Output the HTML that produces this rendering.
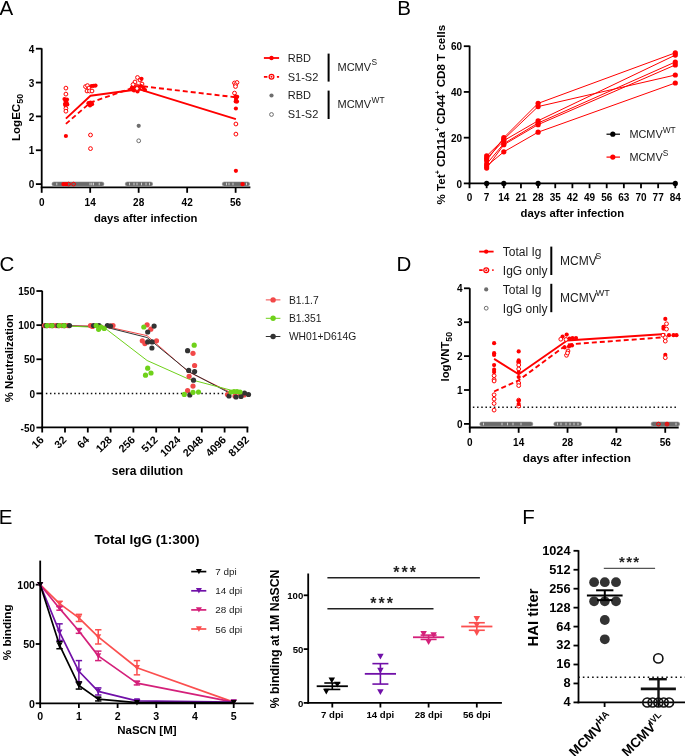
<!DOCTYPE html>
<html><head><meta charset="utf-8"><style>
html,body{margin:0;padding:0;background:#fff;}
svg{display:block;will-change:transform;}
text{font-family:"Liberation Sans",sans-serif;}
</style></head><body>
<svg width="685" height="756" viewBox="0 0 685 756">
<rect width="685" height="756" fill="#fff"/>
<text x="-0.60" y="15.20" font-size="20.5" text-anchor="start" font-weight="normal" fill="#000" >A</text>
<text x="397.30" y="15.40" font-size="20.5" text-anchor="start" font-weight="normal" fill="#000" >B</text>
<text x="-0.60" y="270.90" font-size="20.5" text-anchor="start" font-weight="normal" fill="#000" >C</text>
<text x="396.40" y="270.60" font-size="20.5" text-anchor="start" font-weight="normal" fill="#000" >D</text>
<text x="-1.20" y="523.60" font-size="20.5" text-anchor="start" font-weight="normal" fill="#000" >E</text>
<text x="522.30" y="523.60" font-size="20.5" text-anchor="start" font-weight="normal" fill="#000" >F</text>
<line x1="41.70" y1="48.30" x2="41.70" y2="188.20" stroke="#000" stroke-width="1.8" />
<line x1="35.90" y1="184.10" x2="41.70" y2="184.10" stroke="#000" stroke-width="1.8" />
<text x="34.20" y="188.20" font-size="10.0" text-anchor="end" font-weight="bold" fill="#000" >0</text>
<line x1="35.90" y1="150.25" x2="41.70" y2="150.25" stroke="#000" stroke-width="1.8" />
<text x="34.20" y="154.35" font-size="10.0" text-anchor="end" font-weight="bold" fill="#000" >1</text>
<line x1="35.90" y1="116.40" x2="41.70" y2="116.40" stroke="#000" stroke-width="1.8" />
<text x="34.20" y="120.50" font-size="10.0" text-anchor="end" font-weight="bold" fill="#000" >2</text>
<line x1="35.90" y1="82.55" x2="41.70" y2="82.55" stroke="#000" stroke-width="1.8" />
<text x="34.20" y="86.65" font-size="10.0" text-anchor="end" font-weight="bold" fill="#000" >3</text>
<line x1="35.90" y1="48.70" x2="41.70" y2="48.70" stroke="#000" stroke-width="1.8" />
<text x="34.20" y="52.80" font-size="10.0" text-anchor="end" font-weight="bold" fill="#000" >4</text>
<line x1="40.80" y1="187.30" x2="250.40" y2="187.30" stroke="#000" stroke-width="1.8" />
<line x1="41.70" y1="187.30" x2="41.70" y2="192.80" stroke="#000" stroke-width="1.8" />
<text x="41.70" y="205.50" font-size="10.0" text-anchor="middle" font-weight="bold" fill="#000" >0</text>
<line x1="90.18" y1="187.30" x2="90.18" y2="192.80" stroke="#000" stroke-width="1.8" />
<text x="90.18" y="205.50" font-size="10.0" text-anchor="middle" font-weight="bold" fill="#000" >14</text>
<line x1="138.66" y1="187.30" x2="138.66" y2="192.80" stroke="#000" stroke-width="1.8" />
<text x="138.66" y="205.50" font-size="10.0" text-anchor="middle" font-weight="bold" fill="#000" >28</text>
<line x1="187.15" y1="187.30" x2="187.15" y2="192.80" stroke="#000" stroke-width="1.8" />
<text x="187.15" y="205.50" font-size="10.0" text-anchor="middle" font-weight="bold" fill="#000" >42</text>
<line x1="235.63" y1="187.30" x2="235.63" y2="192.80" stroke="#000" stroke-width="1.8" />
<text x="235.63" y="205.50" font-size="10.0" text-anchor="middle" font-weight="bold" fill="#000" >56</text>
<text x="145.70" y="221.70" font-size="11.3" text-anchor="middle" font-weight="bold" fill="#000" >days after infection</text>
<text transform="translate(20.2,117.5) rotate(-90)" font-size="11.6" font-weight="bold" text-anchor="middle">LogEC<tspan font-size="8.9" dy="2.6">50</tspan></text>
<rect x="51.90" y="181.90" width="52.10" height="4.20" rx="2.1" fill="#6b6b6b" stroke="#8a8a8a" stroke-width="0.5"/>
<rect x="56.35" y="182.70" width="0.9" height="2.6" fill="#dcdcdc"/>
<rect x="89.55" y="182.70" width="0.9" height="2.6" fill="#dcdcdc"/>
<rect x="91.35" y="182.70" width="0.9" height="2.6" fill="#dcdcdc"/>
<rect x="93.05" y="182.70" width="0.9" height="2.6" fill="#dcdcdc"/>
<rect x="98.75" y="182.70" width="0.9" height="2.6" fill="#dcdcdc"/>
<rect x="125.20" y="181.90" width="27.50" height="4.20" rx="2.1" fill="#6b6b6b" stroke="#8a8a8a" stroke-width="0.5"/>
<rect x="129.05" y="182.70" width="0.9" height="2.6" fill="#dcdcdc"/>
<rect x="133.55" y="182.70" width="0.9" height="2.6" fill="#dcdcdc"/>
<rect x="136.55" y="182.70" width="0.9" height="2.6" fill="#dcdcdc"/>
<rect x="141.05" y="182.70" width="0.9" height="2.6" fill="#dcdcdc"/>
<rect x="145.55" y="182.70" width="0.9" height="2.6" fill="#dcdcdc"/>
<rect x="149.05" y="182.70" width="0.9" height="2.6" fill="#dcdcdc"/>
<rect x="222.20" y="181.90" width="27.50" height="4.20" rx="2.1" fill="#6b6b6b" stroke="#8a8a8a" stroke-width="0.5"/>
<rect x="226.05" y="182.70" width="0.9" height="2.6" fill="#dcdcdc"/>
<rect x="228.55" y="182.70" width="0.9" height="2.6" fill="#dcdcdc"/>
<rect x="232.55" y="182.70" width="0.9" height="2.6" fill="#dcdcdc"/>
<rect x="246.05" y="182.70" width="0.9" height="2.6" fill="#dcdcdc"/>
<circle cx="63.50" cy="184.10" r="2.2" fill="#ff0000" stroke="none" stroke-width="1"/>
<circle cx="66.00" cy="184.10" r="2.2" fill="#ff0000" stroke="none" stroke-width="1"/>
<circle cx="68.50" cy="184.10" r="1.9" fill="none" stroke="#ff0000" stroke-width="1"/>
<circle cx="73.60" cy="184.10" r="1.9" fill="none" stroke="#ff0000" stroke-width="1"/>
<circle cx="242.60" cy="184.10" r="2.2" fill="#ff0000" stroke="none" stroke-width="1"/>
<polyline points="65.90,118.60 90.50,95.80 138.70,89.20 235.90,119.10" fill="none" stroke="#ff0000" stroke-width="1.9" stroke-linejoin="round" />
<polyline points="65.90,123.90 90.50,102.50 138.70,85.80 235.90,97.30" fill="none" stroke="#ff0000" stroke-width="1.9" stroke-linejoin="round" stroke-dasharray="5,3"/>
<circle cx="65.90" cy="88.10" r="1.9" fill="#fff" stroke="#ff0000" stroke-width="1"/>
<circle cx="65.90" cy="94.10" r="1.9" fill="#fff" stroke="#ff0000" stroke-width="1"/>
<circle cx="64.50" cy="99.00" r="2.1" fill="#ff0000" stroke="none" stroke-width="1"/>
<circle cx="67.00" cy="99.50" r="2.1" fill="#ff0000" stroke="none" stroke-width="1"/>
<circle cx="65.50" cy="101.00" r="2.1" fill="#ff0000" stroke="none" stroke-width="1"/>
<circle cx="66.50" cy="102.50" r="2.1" fill="#ff0000" stroke="none" stroke-width="1"/>
<circle cx="65.00" cy="104.00" r="2.1" fill="#ff0000" stroke="none" stroke-width="1"/>
<circle cx="67.30" cy="104.50" r="2.1" fill="#ff0000" stroke="none" stroke-width="1"/>
<circle cx="65.50" cy="105.50" r="2.1" fill="#ff0000" stroke="none" stroke-width="1"/>
<circle cx="65.90" cy="108.50" r="1.9" fill="#fff" stroke="#ff0000" stroke-width="1"/>
<circle cx="65.90" cy="111.20" r="1.9" fill="#fff" stroke="#ff0000" stroke-width="1"/>
<circle cx="65.90" cy="136.00" r="2.1" fill="#ff0000" stroke="none" stroke-width="1"/>
<circle cx="85.50" cy="86.60" r="1.9" fill="#fff" stroke="#ff0000" stroke-width="1"/>
<circle cx="87.50" cy="85.60" r="1.9" fill="#fff" stroke="#ff0000" stroke-width="1"/>
<circle cx="89.00" cy="88.00" r="1.9" fill="#fff" stroke="#ff0000" stroke-width="1"/>
<circle cx="87.00" cy="91.00" r="1.9" fill="#fff" stroke="#ff0000" stroke-width="1"/>
<circle cx="89.50" cy="91.00" r="1.9" fill="#fff" stroke="#ff0000" stroke-width="1"/>
<circle cx="92.00" cy="91.00" r="1.9" fill="#fff" stroke="#ff0000" stroke-width="1"/>
<circle cx="91.50" cy="86.00" r="2.1" fill="#ff0000" stroke="none" stroke-width="1"/>
<circle cx="93.50" cy="85.80" r="2.1" fill="#ff0000" stroke="none" stroke-width="1"/>
<circle cx="95.50" cy="85.60" r="2.1" fill="#ff0000" stroke="none" stroke-width="1"/>
<circle cx="88.50" cy="103.20" r="2.1" fill="#ff0000" stroke="none" stroke-width="1"/>
<circle cx="90.50" cy="102.50" r="2.1" fill="#ff0000" stroke="none" stroke-width="1"/>
<circle cx="92.00" cy="104.20" r="2.1" fill="#ff0000" stroke="none" stroke-width="1"/>
<circle cx="90.00" cy="105.50" r="2.1" fill="#ff0000" stroke="none" stroke-width="1"/>
<circle cx="91.50" cy="103.00" r="2.1" fill="#ff0000" stroke="none" stroke-width="1"/>
<circle cx="90.50" cy="135.00" r="1.9" fill="#fff" stroke="#ff0000" stroke-width="1"/>
<circle cx="90.50" cy="148.60" r="1.9" fill="#fff" stroke="#ff0000" stroke-width="1"/>
<circle cx="137.50" cy="77.50" r="1.9" fill="#fff" stroke="#ff0000" stroke-width="1"/>
<circle cx="140.00" cy="80.00" r="1.9" fill="#fff" stroke="#ff0000" stroke-width="1"/>
<circle cx="135.00" cy="82.00" r="1.9" fill="#fff" stroke="#ff0000" stroke-width="1"/>
<circle cx="142.00" cy="84.00" r="1.9" fill="#fff" stroke="#ff0000" stroke-width="1"/>
<circle cx="133.00" cy="84.60" r="1.9" fill="#fff" stroke="#ff0000" stroke-width="1"/>
<circle cx="137.00" cy="86.00" r="1.9" fill="#fff" stroke="#ff0000" stroke-width="1"/>
<circle cx="141.50" cy="78.80" r="2.1" fill="#ff0000" stroke="none" stroke-width="1"/>
<circle cx="132.00" cy="87.50" r="2.1" fill="#ff0000" stroke="none" stroke-width="1"/>
<circle cx="135.00" cy="88.00" r="2.1" fill="#ff0000" stroke="none" stroke-width="1"/>
<circle cx="137.00" cy="87.00" r="2.1" fill="#ff0000" stroke="none" stroke-width="1"/>
<circle cx="139.00" cy="89.00" r="2.1" fill="#ff0000" stroke="none" stroke-width="1"/>
<circle cx="143.50" cy="88.00" r="2.1" fill="#ff0000" stroke="none" stroke-width="1"/>
<circle cx="145.00" cy="90.00" r="2.1" fill="#ff0000" stroke="none" stroke-width="1"/>
<circle cx="134.00" cy="90.50" r="2.1" fill="#ff0000" stroke="none" stroke-width="1"/>
<circle cx="137.50" cy="91.50" r="2.1" fill="#ff0000" stroke="none" stroke-width="1"/>
<circle cx="132.50" cy="89.50" r="2.1" fill="#ff0000" stroke="none" stroke-width="1"/>
<circle cx="141.00" cy="86.00" r="2.1" fill="#ff0000" stroke="none" stroke-width="1"/>
<circle cx="137.00" cy="88.50" r="1.9" fill="#fff" stroke="#ff0000" stroke-width="1"/>
<circle cx="138.70" cy="125.80" r="2.1" fill="#6e6e6e" stroke="none" stroke-width="1"/>
<circle cx="138.70" cy="140.80" r="1.9" fill="#fff" stroke="#6e6e6e" stroke-width="1"/>
<circle cx="234.50" cy="83.00" r="1.9" fill="#fff" stroke="#ff0000" stroke-width="1"/>
<circle cx="237.00" cy="82.50" r="1.9" fill="#fff" stroke="#ff0000" stroke-width="1"/>
<circle cx="235.50" cy="84.80" r="1.9" fill="#fff" stroke="#ff0000" stroke-width="1"/>
<circle cx="235.50" cy="86.50" r="1.9" fill="#fff" stroke="#ff0000" stroke-width="1"/>
<circle cx="234.50" cy="93.10" r="1.9" fill="#fff" stroke="#ff0000" stroke-width="1"/>
<circle cx="235.50" cy="96.40" r="2.1" fill="#ff0000" stroke="none" stroke-width="1"/>
<circle cx="237.20" cy="96.80" r="2.1" fill="#ff0000" stroke="none" stroke-width="1"/>
<circle cx="236.00" cy="99.00" r="2.1" fill="#ff0000" stroke="none" stroke-width="1"/>
<circle cx="235.70" cy="101.40" r="2.1" fill="#ff0000" stroke="none" stroke-width="1"/>
<circle cx="237.00" cy="101.60" r="2.1" fill="#ff0000" stroke="none" stroke-width="1"/>
<circle cx="235.90" cy="108.50" r="2.1" fill="#ff0000" stroke="none" stroke-width="1"/>
<circle cx="235.90" cy="170.80" r="2.1" fill="#ff0000" stroke="none" stroke-width="1"/>
<circle cx="235.90" cy="124.00" r="1.9" fill="#fff" stroke="#ff0000" stroke-width="1"/>
<circle cx="235.90" cy="134.10" r="1.9" fill="#fff" stroke="#ff0000" stroke-width="1"/>
<line x1="263.90" y1="58.00" x2="279.10" y2="58.00" stroke="#ff0000" stroke-width="1.8" />
<circle cx="271.50" cy="58.00" r="2.2" fill="#ff0000" stroke="none" stroke-width="1"/>
<text x="287.70" y="61.96" font-size="11" text-anchor="start" font-weight="normal" fill="#1a1a1a" >RBD</text>
<line x1="263.90" y1="76.80" x2="279.10" y2="76.80" stroke="#ff0000" stroke-width="1.8" stroke-dasharray="3.5,3"/>
<circle cx="271.50" cy="76.80" r="2.4" fill="#fff" stroke="#ff0000" stroke-width="1.2"/>
<circle cx="271.50" cy="76.80" r="1.0" fill="#ff0000" stroke="none" stroke-width="1"/>
<text x="287.70" y="80.76" font-size="11" text-anchor="start" font-weight="normal" fill="#1a1a1a" >S1-S2</text>
<circle cx="271.50" cy="95.50" r="2.1" fill="#6e6e6e" stroke="none" stroke-width="1"/>
<text x="287.70" y="99.46" font-size="11" text-anchor="start" font-weight="normal" fill="#1a1a1a" >RBD</text>
<circle cx="271.50" cy="114.50" r="1.9" fill="#fff" stroke="#6e6e6e" stroke-width="1"/>
<text x="287.70" y="118.46" font-size="11" text-anchor="start" font-weight="normal" fill="#1a1a1a" >S1-S2</text>
<line x1="328.60" y1="53.60" x2="328.60" y2="81.60" stroke="#000" stroke-width="2" />
<line x1="328.60" y1="90.60" x2="328.60" y2="119.00" stroke="#000" stroke-width="2" />
<text x="337.50" y="70.80" font-size="11" text-anchor="start" font-weight="normal" fill="#1a1a1a" >MCMV<tspan font-size="8.4" dy="-5.5" dx="0.3">S</tspan></text>
<text x="337.50" y="108.20" font-size="11" text-anchor="start" font-weight="normal" fill="#1a1a1a" >MCMV<tspan font-size="8.4" dy="-5.5" dx="0.5">WT</tspan></text>
<line x1="469.60" y1="45.70" x2="469.60" y2="184.30" stroke="#000" stroke-width="1.8" />
<line x1="463.80" y1="183.40" x2="469.60" y2="183.40" stroke="#000" stroke-width="1.8" />
<text x="462.00" y="187.50" font-size="10.0" text-anchor="end" font-weight="bold" fill="#000" >0</text>
<line x1="463.80" y1="137.67" x2="469.60" y2="137.67" stroke="#000" stroke-width="1.8" />
<text x="462.00" y="141.77" font-size="10.0" text-anchor="end" font-weight="bold" fill="#000" >20</text>
<line x1="463.80" y1="91.93" x2="469.60" y2="91.93" stroke="#000" stroke-width="1.8" />
<text x="462.00" y="96.03" font-size="10.0" text-anchor="end" font-weight="bold" fill="#000" >40</text>
<line x1="463.80" y1="46.20" x2="469.60" y2="46.20" stroke="#000" stroke-width="1.8" />
<text x="462.00" y="50.30" font-size="10.0" text-anchor="end" font-weight="bold" fill="#000" >60</text>
<line x1="468.70" y1="183.40" x2="676.30" y2="183.40" stroke="#000" stroke-width="1.8" />
<line x1="469.50" y1="183.40" x2="469.50" y2="188.20" stroke="#000" stroke-width="1.8" />
<text x="469.50" y="200.90" font-size="10.0" text-anchor="middle" font-weight="bold" fill="#000" >0</text>
<line x1="486.65" y1="183.40" x2="486.65" y2="188.20" stroke="#000" stroke-width="1.8" />
<text x="486.65" y="200.90" font-size="10.0" text-anchor="middle" font-weight="bold" fill="#000" >7</text>
<line x1="503.80" y1="183.40" x2="503.80" y2="188.20" stroke="#000" stroke-width="1.8" />
<text x="503.80" y="200.90" font-size="10.0" text-anchor="middle" font-weight="bold" fill="#000" >14</text>
<line x1="520.95" y1="183.40" x2="520.95" y2="188.20" stroke="#000" stroke-width="1.8" />
<text x="520.95" y="200.90" font-size="10.0" text-anchor="middle" font-weight="bold" fill="#000" >21</text>
<line x1="538.10" y1="183.40" x2="538.10" y2="188.20" stroke="#000" stroke-width="1.8" />
<text x="538.10" y="200.90" font-size="10.0" text-anchor="middle" font-weight="bold" fill="#000" >28</text>
<line x1="555.25" y1="183.40" x2="555.25" y2="188.20" stroke="#000" stroke-width="1.8" />
<text x="555.25" y="200.90" font-size="10.0" text-anchor="middle" font-weight="bold" fill="#000" >35</text>
<line x1="572.40" y1="183.40" x2="572.40" y2="188.20" stroke="#000" stroke-width="1.8" />
<text x="572.40" y="200.90" font-size="10.0" text-anchor="middle" font-weight="bold" fill="#000" >42</text>
<line x1="589.55" y1="183.40" x2="589.55" y2="188.20" stroke="#000" stroke-width="1.8" />
<text x="589.55" y="200.90" font-size="10.0" text-anchor="middle" font-weight="bold" fill="#000" >49</text>
<line x1="606.70" y1="183.40" x2="606.70" y2="188.20" stroke="#000" stroke-width="1.8" />
<text x="606.70" y="200.90" font-size="10.0" text-anchor="middle" font-weight="bold" fill="#000" >56</text>
<line x1="623.85" y1="183.40" x2="623.85" y2="188.20" stroke="#000" stroke-width="1.8" />
<text x="623.85" y="200.90" font-size="10.0" text-anchor="middle" font-weight="bold" fill="#000" >63</text>
<line x1="641.00" y1="183.40" x2="641.00" y2="188.20" stroke="#000" stroke-width="1.8" />
<text x="641.00" y="200.90" font-size="10.0" text-anchor="middle" font-weight="bold" fill="#000" >70</text>
<line x1="658.15" y1="183.40" x2="658.15" y2="188.20" stroke="#000" stroke-width="1.8" />
<text x="658.15" y="200.90" font-size="10.0" text-anchor="middle" font-weight="bold" fill="#000" >77</text>
<line x1="675.30" y1="183.40" x2="675.30" y2="188.20" stroke="#000" stroke-width="1.8" />
<text x="675.30" y="200.90" font-size="10.0" text-anchor="middle" font-weight="bold" fill="#000" >84</text>
<text x="572.40" y="216.90" font-size="11.3" text-anchor="middle" font-weight="bold" fill="#000" >days after infection</text>
<text transform="translate(444.6,114.6) rotate(-90)" font-size="11.6" font-weight="bold" text-anchor="middle">% Tet<tspan font-size="7" dy="-4.2">+</tspan><tspan dy="4.2"> CD11a</tspan><tspan font-size="7" dy="-4.2">+</tspan><tspan dy="4.2"> CD44</tspan><tspan font-size="7" dy="-4.2">+</tspan><tspan dy="4.2"> CD8 T cells</tspan></text>
<polyline points="486.65,160.53 503.80,137.67 538.10,103.37 675.30,52.83" fill="none" stroke="#ff0000" stroke-width="1.0" stroke-linejoin="round" />
<polyline points="486.65,155.96 503.80,139.27 538.10,106.57 675.30,75.01" fill="none" stroke="#ff0000" stroke-width="1.0" stroke-linejoin="round" />
<polyline points="486.65,158.25 503.80,140.64 538.10,120.74 675.30,55.12" fill="none" stroke="#ff0000" stroke-width="1.0" stroke-linejoin="round" />
<polyline points="486.65,163.96 503.80,143.61 538.10,123.03 675.30,61.98" fill="none" stroke="#ff0000" stroke-width="1.0" stroke-linejoin="round" />
<polyline points="486.65,168.08 503.80,144.75 538.10,124.63 675.30,64.95" fill="none" stroke="#ff0000" stroke-width="1.0" stroke-linejoin="round" />
<polyline points="486.65,166.02 503.80,151.84 538.10,132.18 675.30,83.01" fill="none" stroke="#ff0000" stroke-width="1.0" stroke-linejoin="round" />
<circle cx="486.65" cy="160.53" r="2.6" fill="#ff0000" stroke="none" stroke-width="1"/>
<circle cx="503.80" cy="137.67" r="2.6" fill="#ff0000" stroke="none" stroke-width="1"/>
<circle cx="538.10" cy="103.37" r="2.6" fill="#ff0000" stroke="none" stroke-width="1"/>
<circle cx="675.30" cy="52.83" r="2.6" fill="#ff0000" stroke="none" stroke-width="1"/>
<circle cx="486.65" cy="155.96" r="2.6" fill="#ff0000" stroke="none" stroke-width="1"/>
<circle cx="503.80" cy="139.27" r="2.6" fill="#ff0000" stroke="none" stroke-width="1"/>
<circle cx="538.10" cy="106.57" r="2.6" fill="#ff0000" stroke="none" stroke-width="1"/>
<circle cx="675.30" cy="75.01" r="2.6" fill="#ff0000" stroke="none" stroke-width="1"/>
<circle cx="486.65" cy="158.25" r="2.6" fill="#ff0000" stroke="none" stroke-width="1"/>
<circle cx="503.80" cy="140.64" r="2.6" fill="#ff0000" stroke="none" stroke-width="1"/>
<circle cx="538.10" cy="120.74" r="2.6" fill="#ff0000" stroke="none" stroke-width="1"/>
<circle cx="675.30" cy="55.12" r="2.6" fill="#ff0000" stroke="none" stroke-width="1"/>
<circle cx="486.65" cy="163.96" r="2.6" fill="#ff0000" stroke="none" stroke-width="1"/>
<circle cx="503.80" cy="143.61" r="2.6" fill="#ff0000" stroke="none" stroke-width="1"/>
<circle cx="538.10" cy="123.03" r="2.6" fill="#ff0000" stroke="none" stroke-width="1"/>
<circle cx="675.30" cy="61.98" r="2.6" fill="#ff0000" stroke="none" stroke-width="1"/>
<circle cx="486.65" cy="168.08" r="2.6" fill="#ff0000" stroke="none" stroke-width="1"/>
<circle cx="503.80" cy="144.75" r="2.6" fill="#ff0000" stroke="none" stroke-width="1"/>
<circle cx="538.10" cy="124.63" r="2.6" fill="#ff0000" stroke="none" stroke-width="1"/>
<circle cx="675.30" cy="64.95" r="2.6" fill="#ff0000" stroke="none" stroke-width="1"/>
<circle cx="486.65" cy="166.02" r="2.6" fill="#ff0000" stroke="none" stroke-width="1"/>
<circle cx="503.80" cy="151.84" r="2.6" fill="#ff0000" stroke="none" stroke-width="1"/>
<circle cx="538.10" cy="132.18" r="2.6" fill="#ff0000" stroke="none" stroke-width="1"/>
<circle cx="675.30" cy="83.01" r="2.6" fill="#ff0000" stroke="none" stroke-width="1"/>
<circle cx="486.65" cy="183.40" r="2.6" fill="#000" stroke="none" stroke-width="1"/>
<circle cx="503.80" cy="183.40" r="2.6" fill="#000" stroke="none" stroke-width="1"/>
<circle cx="538.10" cy="183.40" r="2.6" fill="#000" stroke="none" stroke-width="1"/>
<circle cx="675.30" cy="183.40" r="2.6" fill="#000" stroke="none" stroke-width="1"/>
<line x1="606.50" y1="134.20" x2="620.00" y2="134.20" stroke="#000" stroke-width="1.2" />
<circle cx="612.80" cy="134.20" r="2.6" fill="#000" stroke="none" stroke-width="1"/>
<text x="629.40" y="138.10" font-size="10.9" text-anchor="start" font-weight="normal" fill="#1a1a1a" >MCMV<tspan font-size="8.4" dy="-5">WT</tspan></text>
<line x1="606.50" y1="157.10" x2="620.00" y2="157.10" stroke="#ff0000" stroke-width="1.2" />
<circle cx="612.80" cy="157.10" r="2.6" fill="#ff0000" stroke="none" stroke-width="1"/>
<text x="629.40" y="161.00" font-size="10.9" text-anchor="start" font-weight="normal" fill="#1a1a1a" >MCMV<tspan font-size="8.4" dy="-5">S</tspan></text>
<line x1="42.20" y1="290.70" x2="42.20" y2="428.20" stroke="#000" stroke-width="1.8" />
<line x1="36.40" y1="291.02" x2="42.20" y2="291.02" stroke="#000" stroke-width="1.8" />
<text x="35.00" y="295.12" font-size="10.0" text-anchor="end" font-weight="bold" fill="#000" >150</text>
<line x1="36.40" y1="325.15" x2="42.20" y2="325.15" stroke="#000" stroke-width="1.8" />
<text x="35.00" y="329.25" font-size="10.0" text-anchor="end" font-weight="bold" fill="#000" >100</text>
<line x1="36.40" y1="359.27" x2="42.20" y2="359.27" stroke="#000" stroke-width="1.8" />
<text x="35.00" y="363.38" font-size="10.0" text-anchor="end" font-weight="bold" fill="#000" >50</text>
<line x1="36.40" y1="393.40" x2="42.20" y2="393.40" stroke="#000" stroke-width="1.8" />
<text x="35.00" y="397.50" font-size="10.0" text-anchor="end" font-weight="bold" fill="#000" >0</text>
<line x1="36.40" y1="427.52" x2="42.20" y2="427.52" stroke="#000" stroke-width="1.8" />
<text x="35.00" y="431.62" font-size="10.0" text-anchor="end" font-weight="bold" fill="#000" >-50</text>
<line x1="41.30" y1="427.30" x2="248.30" y2="427.30" stroke="#000" stroke-width="1.8" />
<line x1="42.20" y1="427.30" x2="42.20" y2="432.50" stroke="#000" stroke-width="1.8" />
<text transform="translate(44.40,440.5) rotate(-45)" font-size="10.7" font-weight="bold" text-anchor="end">16</text>
<line x1="65.00" y1="427.30" x2="65.00" y2="432.50" stroke="#000" stroke-width="1.8" />
<text transform="translate(67.20,440.5) rotate(-45)" font-size="10.7" font-weight="bold" text-anchor="end">32</text>
<line x1="87.80" y1="427.30" x2="87.80" y2="432.50" stroke="#000" stroke-width="1.8" />
<text transform="translate(90.00,440.5) rotate(-45)" font-size="10.7" font-weight="bold" text-anchor="end">64</text>
<line x1="110.60" y1="427.30" x2="110.60" y2="432.50" stroke="#000" stroke-width="1.8" />
<text transform="translate(112.80,440.5) rotate(-45)" font-size="10.7" font-weight="bold" text-anchor="end">128</text>
<line x1="133.40" y1="427.30" x2="133.40" y2="432.50" stroke="#000" stroke-width="1.8" />
<text transform="translate(135.60,440.5) rotate(-45)" font-size="10.7" font-weight="bold" text-anchor="end">256</text>
<line x1="156.20" y1="427.30" x2="156.20" y2="432.50" stroke="#000" stroke-width="1.8" />
<text transform="translate(158.40,440.5) rotate(-45)" font-size="10.7" font-weight="bold" text-anchor="end">512</text>
<line x1="179.00" y1="427.30" x2="179.00" y2="432.50" stroke="#000" stroke-width="1.8" />
<text transform="translate(181.20,440.5) rotate(-45)" font-size="10.7" font-weight="bold" text-anchor="end">1024</text>
<line x1="201.80" y1="427.30" x2="201.80" y2="432.50" stroke="#000" stroke-width="1.8" />
<text transform="translate(204.00,440.5) rotate(-45)" font-size="10.7" font-weight="bold" text-anchor="end">2048</text>
<line x1="224.60" y1="427.30" x2="224.60" y2="432.50" stroke="#000" stroke-width="1.8" />
<text transform="translate(226.80,440.5) rotate(-45)" font-size="10.7" font-weight="bold" text-anchor="end">4096</text>
<line x1="247.40" y1="427.30" x2="247.40" y2="432.50" stroke="#000" stroke-width="1.8" />
<text transform="translate(249.60,440.5) rotate(-45)" font-size="10.7" font-weight="bold" text-anchor="end">8192</text>
<text x="147.40" y="474.50" font-size="12" text-anchor="middle" font-weight="bold" fill="#000" >sera dilution</text>
<text transform="translate(12.6,358.2) rotate(-90)" font-size="11.3" font-weight="bold" text-anchor="middle">% Neutralization</text>
<line x1="45.85" y1="393.50" x2="250.00" y2="393.50" stroke="#111" stroke-width="1.5" stroke-dasharray="1.5,2.59"/>
<polyline points="57.00,325.60 104.40,326.20 147.00,335.60 188.70,372.00 230.30,392.30" fill="none" stroke="#f24848" stroke-width="1.0" stroke-linejoin="round" />
<polyline points="57.00,325.60 104.40,326.80 147.10,337.50 188.70,371.50 230.30,393.40" fill="none" stroke="#333333" stroke-width="1.0" stroke-linejoin="round" />
<polyline points="57.00,325.60 104.40,327.70 147.10,360.50 188.70,379.10 230.30,390.00" fill="none" stroke="#6fd11a" stroke-width="1.0" stroke-linejoin="round" />
<circle cx="44.50" cy="325.60" r="2.6" fill="#f24848" stroke="none" stroke-width="1"/>
<circle cx="47.00" cy="325.60" r="2.6" fill="#f24848" stroke="none" stroke-width="1"/>
<circle cx="50.00" cy="325.60" r="2.6" fill="#f24848" stroke="none" stroke-width="1"/>
<circle cx="53.00" cy="325.60" r="2.6" fill="#f24848" stroke="none" stroke-width="1"/>
<circle cx="56.00" cy="325.60" r="2.6" fill="#f24848" stroke="none" stroke-width="1"/>
<circle cx="59.00" cy="325.60" r="2.6" fill="#f24848" stroke="none" stroke-width="1"/>
<circle cx="62.00" cy="325.60" r="2.6" fill="#f24848" stroke="none" stroke-width="1"/>
<circle cx="65.00" cy="325.60" r="2.6" fill="#f24848" stroke="none" stroke-width="1"/>
<circle cx="68.00" cy="325.60" r="2.6" fill="#f24848" stroke="none" stroke-width="1"/>
<circle cx="46.00" cy="325.60" r="2.6" fill="#333333" stroke="none" stroke-width="1"/>
<circle cx="52.00" cy="325.60" r="2.6" fill="#333333" stroke="none" stroke-width="1"/>
<circle cx="58.00" cy="325.60" r="2.6" fill="#333333" stroke="none" stroke-width="1"/>
<circle cx="64.00" cy="325.60" r="2.6" fill="#333333" stroke="none" stroke-width="1"/>
<circle cx="69.50" cy="325.60" r="2.6" fill="#333333" stroke="none" stroke-width="1"/>
<circle cx="47.20" cy="325.60" r="2.6" fill="#6fd11a" stroke="none" stroke-width="1"/>
<circle cx="52.00" cy="325.60" r="2.6" fill="#6fd11a" stroke="none" stroke-width="1"/>
<circle cx="59.30" cy="325.60" r="2.6" fill="#6fd11a" stroke="none" stroke-width="1"/>
<circle cx="64.10" cy="325.60" r="2.6" fill="#6fd11a" stroke="none" stroke-width="1"/>
<circle cx="90.50" cy="325.60" r="2.6" fill="#f24848" stroke="none" stroke-width="1"/>
<circle cx="92.50" cy="326.50" r="2.6" fill="#f24848" stroke="none" stroke-width="1"/>
<circle cx="113.00" cy="325.50" r="2.6" fill="#f24848" stroke="none" stroke-width="1"/>
<circle cx="110.00" cy="326.00" r="2.6" fill="#f24848" stroke="none" stroke-width="1"/>
<circle cx="93.50" cy="325.50" r="2.6" fill="#333333" stroke="none" stroke-width="1"/>
<circle cx="99.00" cy="325.50" r="2.6" fill="#333333" stroke="none" stroke-width="1"/>
<circle cx="107.40" cy="325.50" r="2.6" fill="#333333" stroke="none" stroke-width="1"/>
<circle cx="110.50" cy="326.00" r="2.6" fill="#333333" stroke="none" stroke-width="1"/>
<circle cx="96.20" cy="325.50" r="2.6" fill="#6fd11a" stroke="none" stroke-width="1"/>
<circle cx="98.60" cy="329.30" r="2.6" fill="#6fd11a" stroke="none" stroke-width="1"/>
<circle cx="104.20" cy="328.50" r="2.6" fill="#6fd11a" stroke="none" stroke-width="1"/>
<circle cx="101.00" cy="327.00" r="2.6" fill="#6fd11a" stroke="none" stroke-width="1"/>
<circle cx="147.10" cy="324.80" r="2.6" fill="#f24848" stroke="none" stroke-width="1"/>
<circle cx="150.80" cy="329.20" r="2.6" fill="#f24848" stroke="none" stroke-width="1"/>
<circle cx="142.30" cy="340.80" r="2.6" fill="#f24848" stroke="none" stroke-width="1"/>
<circle cx="144.90" cy="343.60" r="2.6" fill="#f24848" stroke="none" stroke-width="1"/>
<circle cx="156.50" cy="340.80" r="2.6" fill="#f24848" stroke="none" stroke-width="1"/>
<circle cx="143.80" cy="327.00" r="2.6" fill="#6fd11a" stroke="none" stroke-width="1"/>
<circle cx="154.10" cy="326.10" r="2.6" fill="#333333" stroke="none" stroke-width="1"/>
<circle cx="147.70" cy="332.00" r="2.6" fill="#333333" stroke="none" stroke-width="1"/>
<circle cx="147.70" cy="341.90" r="2.6" fill="#333333" stroke="none" stroke-width="1"/>
<circle cx="152.10" cy="341.90" r="2.6" fill="#333333" stroke="none" stroke-width="1"/>
<circle cx="151.90" cy="348.00" r="2.6" fill="#333333" stroke="none" stroke-width="1"/>
<circle cx="147.70" cy="368.20" r="2.6" fill="#6fd11a" stroke="none" stroke-width="1"/>
<circle cx="151.00" cy="373.00" r="2.6" fill="#6fd11a" stroke="none" stroke-width="1"/>
<circle cx="145.50" cy="375.20" r="2.6" fill="#6fd11a" stroke="none" stroke-width="1"/>
<circle cx="193.00" cy="353.30" r="2.6" fill="#f24848" stroke="none" stroke-width="1"/>
<circle cx="194.60" cy="365.50" r="2.6" fill="#f24848" stroke="none" stroke-width="1"/>
<circle cx="189.10" cy="376.30" r="2.6" fill="#f24848" stroke="none" stroke-width="1"/>
<circle cx="193.00" cy="386.10" r="2.6" fill="#f24848" stroke="none" stroke-width="1"/>
<circle cx="187.60" cy="390.50" r="2.6" fill="#f24848" stroke="none" stroke-width="1"/>
<circle cx="187.60" cy="350.70" r="2.6" fill="#333333" stroke="none" stroke-width="1"/>
<circle cx="188.70" cy="370.40" r="2.6" fill="#333333" stroke="none" stroke-width="1"/>
<circle cx="194.60" cy="371.50" r="2.6" fill="#333333" stroke="none" stroke-width="1"/>
<circle cx="193.50" cy="380.20" r="2.6" fill="#333333" stroke="none" stroke-width="1"/>
<circle cx="189.80" cy="394.90" r="2.6" fill="#333333" stroke="none" stroke-width="1"/>
<circle cx="194.20" cy="345.20" r="2.6" fill="#6fd11a" stroke="none" stroke-width="1"/>
<circle cx="193.00" cy="392.30" r="2.6" fill="#6fd11a" stroke="none" stroke-width="1"/>
<circle cx="198.50" cy="392.00" r="2.6" fill="#6fd11a" stroke="none" stroke-width="1"/>
<circle cx="184.30" cy="394.40" r="2.6" fill="#6fd11a" stroke="none" stroke-width="1"/>
<circle cx="227.50" cy="394.50" r="2.6" fill="#f24848" stroke="none" stroke-width="1"/>
<circle cx="235.00" cy="396.00" r="2.6" fill="#f24848" stroke="none" stroke-width="1"/>
<circle cx="240.00" cy="394.00" r="2.6" fill="#f24848" stroke="none" stroke-width="1"/>
<circle cx="244.00" cy="395.00" r="2.6" fill="#f24848" stroke="none" stroke-width="1"/>
<circle cx="229.00" cy="396.00" r="2.6" fill="#333333" stroke="none" stroke-width="1"/>
<circle cx="236.00" cy="397.00" r="2.6" fill="#333333" stroke="none" stroke-width="1"/>
<circle cx="241.00" cy="396.50" r="2.6" fill="#333333" stroke="none" stroke-width="1"/>
<circle cx="244.50" cy="393.00" r="2.6" fill="#333333" stroke="none" stroke-width="1"/>
<circle cx="248.50" cy="394.50" r="2.6" fill="#333333" stroke="none" stroke-width="1"/>
<circle cx="231.00" cy="392.00" r="2.6" fill="#6fd11a" stroke="none" stroke-width="1"/>
<circle cx="234.00" cy="391.50" r="2.6" fill="#6fd11a" stroke="none" stroke-width="1"/>
<circle cx="237.00" cy="391.50" r="2.6" fill="#6fd11a" stroke="none" stroke-width="1"/>
<circle cx="240.00" cy="392.00" r="2.6" fill="#6fd11a" stroke="none" stroke-width="1"/>
<line x1="265.80" y1="299.90" x2="280.40" y2="299.90" stroke="#f24848" stroke-width="1.0" />
<circle cx="273.10" cy="299.90" r="2.7" fill="#f24848" stroke="none" stroke-width="1"/>
<text x="288.90" y="303.61" font-size="10.3" text-anchor="start" font-weight="normal" fill="#1a1a1a" >B1.1.7</text>
<line x1="265.80" y1="318.30" x2="280.40" y2="318.30" stroke="#6fd11a" stroke-width="1.0" />
<circle cx="273.10" cy="318.30" r="2.7" fill="#6fd11a" stroke="none" stroke-width="1"/>
<text x="288.90" y="322.01" font-size="10.3" text-anchor="start" font-weight="normal" fill="#1a1a1a" >B1.351</text>
<line x1="265.80" y1="336.50" x2="280.40" y2="336.50" stroke="#333333" stroke-width="1.0" />
<circle cx="273.10" cy="336.50" r="2.7" fill="#333333" stroke="none" stroke-width="1"/>
<text x="288.90" y="340.21" font-size="10.3" text-anchor="start" font-weight="normal" fill="#1a1a1a" >WH01+D614G</text>
<line x1="469.80" y1="288.20" x2="469.80" y2="428.40" stroke="#000" stroke-width="1.8" />
<line x1="464.00" y1="423.90" x2="469.80" y2="423.90" stroke="#000" stroke-width="1.8" />
<text x="462.50" y="428.00" font-size="10.0" text-anchor="end" font-weight="bold" fill="#000" >0</text>
<line x1="464.00" y1="390.00" x2="469.80" y2="390.00" stroke="#000" stroke-width="1.8" />
<text x="462.50" y="394.10" font-size="10.0" text-anchor="end" font-weight="bold" fill="#000" >1</text>
<line x1="464.00" y1="356.10" x2="469.80" y2="356.10" stroke="#000" stroke-width="1.8" />
<text x="462.50" y="360.20" font-size="10.0" text-anchor="end" font-weight="bold" fill="#000" >2</text>
<line x1="464.00" y1="322.20" x2="469.80" y2="322.20" stroke="#000" stroke-width="1.8" />
<text x="462.50" y="326.30" font-size="10.0" text-anchor="end" font-weight="bold" fill="#000" >3</text>
<line x1="464.00" y1="288.30" x2="469.80" y2="288.30" stroke="#000" stroke-width="1.8" />
<text x="462.50" y="292.40" font-size="10.0" text-anchor="end" font-weight="bold" fill="#000" >4</text>
<line x1="468.90" y1="427.50" x2="678.70" y2="427.50" stroke="#000" stroke-width="1.8" />
<line x1="469.80" y1="427.50" x2="469.80" y2="432.80" stroke="#000" stroke-width="1.8" />
<text x="469.80" y="445.60" font-size="10.0" text-anchor="middle" font-weight="bold" fill="#000" >0</text>
<line x1="518.66" y1="427.50" x2="518.66" y2="432.80" stroke="#000" stroke-width="1.8" />
<text x="518.66" y="445.60" font-size="10.0" text-anchor="middle" font-weight="bold" fill="#000" >14</text>
<line x1="567.52" y1="427.50" x2="567.52" y2="432.80" stroke="#000" stroke-width="1.8" />
<text x="567.52" y="445.60" font-size="10.0" text-anchor="middle" font-weight="bold" fill="#000" >28</text>
<line x1="616.38" y1="427.50" x2="616.38" y2="432.80" stroke="#000" stroke-width="1.8" />
<text x="616.38" y="445.60" font-size="10.0" text-anchor="middle" font-weight="bold" fill="#000" >42</text>
<line x1="665.24" y1="427.50" x2="665.24" y2="432.80" stroke="#000" stroke-width="1.8" />
<text x="665.24" y="445.60" font-size="10.0" text-anchor="middle" font-weight="bold" fill="#000" >56</text>
<text x="576.80" y="462.30" font-size="11.8" text-anchor="middle" font-weight="bold" fill="#000" >days after infection</text>
<text transform="translate(449.2,356.8) rotate(-90)" font-size="11.4" font-weight="bold" text-anchor="middle">logVNT<tspan font-size="8.6" dy="2.5">50</tspan></text>
<line x1="472.85" y1="407.30" x2="678.00" y2="407.30" stroke="#111" stroke-width="1.5" stroke-dasharray="1.5,2.7"/>
<rect x="479.70" y="421.90" width="53.20" height="4.20" rx="2.1" fill="#6b6b6b" stroke="#8a8a8a" stroke-width="0.5"/>
<rect x="483.05" y="422.70" width="0.9" height="2.6" fill="#dcdcdc"/>
<rect x="501.55" y="422.70" width="0.9" height="2.6" fill="#dcdcdc"/>
<rect x="507.05" y="422.70" width="0.9" height="2.6" fill="#dcdcdc"/>
<rect x="512.55" y="422.70" width="0.9" height="2.6" fill="#dcdcdc"/>
<rect x="520.55" y="422.70" width="0.9" height="2.6" fill="#dcdcdc"/>
<rect x="553.70" y="421.90" width="27.90" height="4.20" rx="2.1" fill="#6b6b6b" stroke="#8a8a8a" stroke-width="0.5"/>
<rect x="557.05" y="422.70" width="0.9" height="2.6" fill="#dcdcdc"/>
<rect x="560.55" y="422.70" width="0.9" height="2.6" fill="#dcdcdc"/>
<rect x="565.55" y="422.70" width="0.9" height="2.6" fill="#dcdcdc"/>
<rect x="569.55" y="422.70" width="0.9" height="2.6" fill="#dcdcdc"/>
<rect x="573.55" y="422.70" width="0.9" height="2.6" fill="#dcdcdc"/>
<rect x="577.55" y="422.70" width="0.9" height="2.6" fill="#dcdcdc"/>
<rect x="651.10" y="421.90" width="28.60" height="4.20" rx="2.1" fill="#6b6b6b" stroke="#8a8a8a" stroke-width="0.5"/>
<rect x="675.55" y="422.70" width="0.9" height="2.6" fill="#dcdcdc"/>
<circle cx="658.50" cy="424.10" r="1.9" fill="none" stroke="#ff0000" stroke-width="1"/>
<circle cx="667.00" cy="424.10" r="1.9" fill="none" stroke="#ff0000" stroke-width="1"/>
<circle cx="667.00" cy="424.10" r="1.0" fill="#ff0000" stroke="none" stroke-width="1"/>
<polyline points="494.10,358.90 518.70,374.30 567.10,340.50 665.30,334.00" fill="none" stroke="#ff0000" stroke-width="1.9" stroke-linejoin="round" />
<polyline points="494.10,391.50 518.70,380.30 567.10,344.50 665.30,337.20" fill="none" stroke="#ff0000" stroke-width="1.9" stroke-linejoin="round" stroke-dasharray="5,3"/>
<circle cx="494.10" cy="375.70" r="1.9" fill="#fff" stroke="#ff0000" stroke-width="1"/>
<circle cx="494.10" cy="379.60" r="1.9" fill="#fff" stroke="#ff0000" stroke-width="1"/>
<circle cx="494.10" cy="381.00" r="1.9" fill="#fff" stroke="#ff0000" stroke-width="1"/>
<circle cx="494.10" cy="394.80" r="1.9" fill="#fff" stroke="#ff0000" stroke-width="1"/>
<circle cx="494.10" cy="399.10" r="1.9" fill="#fff" stroke="#ff0000" stroke-width="1"/>
<circle cx="494.10" cy="403.50" r="1.9" fill="#fff" stroke="#ff0000" stroke-width="1"/>
<circle cx="494.10" cy="410.10" r="1.9" fill="#fff" stroke="#ff0000" stroke-width="1"/>
<circle cx="518.70" cy="362.40" r="1.9" fill="#fff" stroke="#ff0000" stroke-width="1"/>
<circle cx="518.70" cy="365.00" r="1.9" fill="#fff" stroke="#ff0000" stroke-width="1"/>
<circle cx="518.70" cy="369.00" r="1.9" fill="#fff" stroke="#ff0000" stroke-width="1"/>
<circle cx="518.70" cy="383.00" r="1.9" fill="#fff" stroke="#ff0000" stroke-width="1"/>
<circle cx="518.70" cy="385.60" r="1.9" fill="#fff" stroke="#ff0000" stroke-width="1"/>
<circle cx="518.70" cy="400.10" r="1.9" fill="#fff" stroke="#ff0000" stroke-width="1"/>
<circle cx="518.70" cy="406.10" r="1.9" fill="#fff" stroke="#ff0000" stroke-width="1"/>
<circle cx="494.10" cy="343.20" r="2.1" fill="#ff0000" stroke="none" stroke-width="1"/>
<circle cx="494.10" cy="353.20" r="2.1" fill="#ff0000" stroke="none" stroke-width="1"/>
<circle cx="494.10" cy="354.90" r="2.1" fill="#ff0000" stroke="none" stroke-width="1"/>
<circle cx="494.10" cy="365.10" r="2.1" fill="#ff0000" stroke="none" stroke-width="1"/>
<circle cx="494.10" cy="369.70" r="2.1" fill="#ff0000" stroke="none" stroke-width="1"/>
<circle cx="494.10" cy="372.10" r="2.1" fill="#ff0000" stroke="none" stroke-width="1"/>
<circle cx="518.70" cy="351.40" r="2.1" fill="#ff0000" stroke="none" stroke-width="1"/>
<circle cx="518.70" cy="360.40" r="2.1" fill="#ff0000" stroke="none" stroke-width="1"/>
<circle cx="518.70" cy="361.50" r="2.1" fill="#ff0000" stroke="none" stroke-width="1"/>
<circle cx="518.70" cy="372.40" r="2.1" fill="#ff0000" stroke="none" stroke-width="1"/>
<circle cx="518.70" cy="377.00" r="2.1" fill="#ff0000" stroke="none" stroke-width="1"/>
<circle cx="518.70" cy="400.80" r="2.1" fill="#ff0000" stroke="none" stroke-width="1"/>
<circle cx="518.70" cy="404.10" r="2.1" fill="#ff0000" stroke="none" stroke-width="1"/>
<circle cx="562.60" cy="336.60" r="2.1" fill="#ff0000" stroke="none" stroke-width="1"/>
<circle cx="566.70" cy="334.60" r="2.1" fill="#ff0000" stroke="none" stroke-width="1"/>
<circle cx="572.50" cy="338.00" r="2.1" fill="#ff0000" stroke="none" stroke-width="1"/>
<circle cx="576.00" cy="338.00" r="2.1" fill="#ff0000" stroke="none" stroke-width="1"/>
<circle cx="564.60" cy="347.40" r="2.1" fill="#ff0000" stroke="none" stroke-width="1"/>
<circle cx="569.00" cy="346.50" r="2.1" fill="#ff0000" stroke="none" stroke-width="1"/>
<circle cx="572.00" cy="345.50" r="2.1" fill="#ff0000" stroke="none" stroke-width="1"/>
<circle cx="569.50" cy="338.50" r="2.1" fill="#ff0000" stroke="none" stroke-width="1"/>
<circle cx="560.80" cy="339.20" r="1.9" fill="#fff" stroke="#ff0000" stroke-width="1"/>
<circle cx="566.00" cy="339.50" r="1.9" fill="#fff" stroke="#ff0000" stroke-width="1"/>
<circle cx="568.00" cy="351.00" r="1.9" fill="#fff" stroke="#ff0000" stroke-width="1"/>
<circle cx="566.50" cy="355.30" r="1.9" fill="#fff" stroke="#ff0000" stroke-width="1"/>
<circle cx="567.50" cy="353.00" r="1.9" fill="#fff" stroke="#ff0000" stroke-width="1"/>
<circle cx="665.30" cy="318.90" r="2.1" fill="#ff0000" stroke="none" stroke-width="1"/>
<circle cx="663.50" cy="326.80" r="2.1" fill="#ff0000" stroke="none" stroke-width="1"/>
<circle cx="663.50" cy="328.70" r="2.1" fill="#ff0000" stroke="none" stroke-width="1"/>
<circle cx="669.00" cy="335.20" r="2.1" fill="#ff0000" stroke="none" stroke-width="1"/>
<circle cx="673.50" cy="335.20" r="2.1" fill="#ff0000" stroke="none" stroke-width="1"/>
<circle cx="676.50" cy="335.20" r="2.1" fill="#ff0000" stroke="none" stroke-width="1"/>
<circle cx="665.30" cy="354.90" r="2.1" fill="#ff0000" stroke="none" stroke-width="1"/>
<circle cx="666.50" cy="323.80" r="1.9" fill="#fff" stroke="#ff0000" stroke-width="1"/>
<circle cx="666.50" cy="329.10" r="1.9" fill="#fff" stroke="#ff0000" stroke-width="1"/>
<circle cx="663.00" cy="335.20" r="1.9" fill="#fff" stroke="#ff0000" stroke-width="1"/>
<circle cx="665.30" cy="337.60" r="1.9" fill="#fff" stroke="#ff0000" stroke-width="1"/>
<circle cx="665.30" cy="341.10" r="1.9" fill="#fff" stroke="#ff0000" stroke-width="1"/>
<circle cx="665.30" cy="357.70" r="1.9" fill="#fff" stroke="#ff0000" stroke-width="1"/>
<line x1="479.20" y1="251.60" x2="493.60" y2="251.60" stroke="#ff0000" stroke-width="1.8" />
<circle cx="486.20" cy="251.60" r="2.2" fill="#ff0000" stroke="none" stroke-width="1"/>
<text x="502.80" y="256.12" font-size="12" text-anchor="start" font-weight="normal" fill="#1a1a1a" >Total Ig</text>
<line x1="479.20" y1="270.20" x2="493.60" y2="270.20" stroke="#ff0000" stroke-width="1.8" stroke-dasharray="3.5,3"/>
<circle cx="486.20" cy="270.20" r="2.4" fill="#fff" stroke="#ff0000" stroke-width="1.2"/>
<circle cx="486.20" cy="270.20" r="1.0" fill="#ff0000" stroke="none" stroke-width="1"/>
<text x="502.80" y="274.72" font-size="12" text-anchor="start" font-weight="normal" fill="#1a1a1a" >IgG only</text>
<circle cx="486.20" cy="289.40" r="2.1" fill="#6e6e6e" stroke="none" stroke-width="1"/>
<text x="502.80" y="293.92" font-size="12" text-anchor="start" font-weight="normal" fill="#1a1a1a" >Total Ig</text>
<circle cx="486.20" cy="308.20" r="1.9" fill="#fff" stroke="#6e6e6e" stroke-width="1"/>
<text x="502.80" y="312.72" font-size="12" text-anchor="start" font-weight="normal" fill="#1a1a1a" >IgG only</text>
<line x1="551.30" y1="246.60" x2="551.30" y2="275.00" stroke="#000" stroke-width="2" />
<line x1="551.30" y1="283.80" x2="551.30" y2="312.20" stroke="#000" stroke-width="2" />
<text x="560.00" y="264.50" font-size="12" text-anchor="start" font-weight="normal" fill="#1a1a1a" >MCMV<tspan font-size="9" dy="-5.5" dx="-1.5">S</tspan></text>
<text x="560.00" y="301.70" font-size="12" text-anchor="start" font-weight="normal" fill="#1a1a1a" >MCMV<tspan font-size="9" dy="-5.5" dx="-1">WT</tspan></text>
<line x1="40.20" y1="560.60" x2="40.20" y2="704.20" stroke="#000" stroke-width="1.8" />
<line x1="35.70" y1="703.30" x2="40.20" y2="703.30" stroke="#000" stroke-width="1.8" />
<text x="35.00" y="707.62" font-size="10.6" text-anchor="end" font-weight="bold" fill="#000" >0</text>
<line x1="35.70" y1="644.00" x2="40.20" y2="644.00" stroke="#000" stroke-width="1.8" />
<text x="35.00" y="648.32" font-size="10.6" text-anchor="end" font-weight="bold" fill="#000" >50</text>
<line x1="35.70" y1="584.70" x2="40.20" y2="584.70" stroke="#000" stroke-width="1.8" />
<text x="35.00" y="589.02" font-size="10.6" text-anchor="end" font-weight="bold" fill="#000" >100</text>
<line x1="39.30" y1="703.30" x2="253.70" y2="703.30" stroke="#000" stroke-width="1.8" />
<line x1="40.20" y1="703.30" x2="40.20" y2="708.00" stroke="#000" stroke-width="1.8" />
<text x="40.20" y="719.82" font-size="10.6" text-anchor="middle" font-weight="bold" fill="#000" >0</text>
<line x1="78.90" y1="703.30" x2="78.90" y2="708.00" stroke="#000" stroke-width="1.8" />
<text x="78.90" y="719.82" font-size="10.6" text-anchor="middle" font-weight="bold" fill="#000" >1</text>
<line x1="117.60" y1="703.30" x2="117.60" y2="708.00" stroke="#000" stroke-width="1.8" />
<text x="117.60" y="719.82" font-size="10.6" text-anchor="middle" font-weight="bold" fill="#000" >2</text>
<line x1="156.30" y1="703.30" x2="156.30" y2="708.00" stroke="#000" stroke-width="1.8" />
<text x="156.30" y="719.82" font-size="10.6" text-anchor="middle" font-weight="bold" fill="#000" >3</text>
<line x1="195.00" y1="703.30" x2="195.00" y2="708.00" stroke="#000" stroke-width="1.8" />
<text x="195.00" y="719.82" font-size="10.6" text-anchor="middle" font-weight="bold" fill="#000" >4</text>
<line x1="233.70" y1="703.30" x2="233.70" y2="708.00" stroke="#000" stroke-width="1.8" />
<text x="233.70" y="719.82" font-size="10.6" text-anchor="middle" font-weight="bold" fill="#000" >5</text>
<text x="146.90" y="733.90" font-size="11.5" text-anchor="middle" font-weight="bold" fill="#000" >NaSCN [M]</text>
<text x="147.00" y="544.40" font-size="13.5" text-anchor="middle" font-weight="bold" fill="#000" >Total IgG (1:300)</text>
<text transform="translate(10.8,632.3) rotate(-90)" font-size="11.7" font-weight="bold" text-anchor="middle">% binding</text>
<polyline points="40.20,584.70 59.55,603.68 78.90,617.91 98.25,636.88 136.95,667.72 233.70,702.11" fill="none" stroke="#fb4f4f" stroke-width="1.7" stroke-linejoin="round" />
<polygon points="37.20,582.00 43.20,582.00 40.20,587.40" fill="#fb4f4f"/>
<line x1="59.55" y1="601.30" x2="59.55" y2="606.05" stroke="#fb4f4f" stroke-width="1.5" />
<line x1="56.35" y1="601.30" x2="62.75" y2="601.30" stroke="#fb4f4f" stroke-width="1.5" />
<line x1="56.35" y1="606.05" x2="62.75" y2="606.05" stroke="#fb4f4f" stroke-width="1.5" />
<polygon points="56.55,600.98 62.55,600.98 59.55,606.38" fill="#fb4f4f"/>
<line x1="78.90" y1="614.35" x2="78.90" y2="621.47" stroke="#fb4f4f" stroke-width="1.5" />
<line x1="75.70" y1="614.35" x2="82.10" y2="614.35" stroke="#fb4f4f" stroke-width="1.5" />
<line x1="75.70" y1="621.47" x2="82.10" y2="621.47" stroke="#fb4f4f" stroke-width="1.5" />
<polygon points="75.90,615.21 81.90,615.21 78.90,620.61" fill="#fb4f4f"/>
<line x1="98.25" y1="629.77" x2="98.25" y2="644.00" stroke="#fb4f4f" stroke-width="1.5" />
<line x1="95.05" y1="629.77" x2="101.45" y2="629.77" stroke="#fb4f4f" stroke-width="1.5" />
<line x1="95.05" y1="644.00" x2="101.45" y2="644.00" stroke="#fb4f4f" stroke-width="1.5" />
<polygon points="95.25,634.18 101.25,634.18 98.25,639.58" fill="#fb4f4f"/>
<line x1="136.95" y1="660.60" x2="136.95" y2="674.84" stroke="#fb4f4f" stroke-width="1.5" />
<line x1="133.75" y1="660.60" x2="140.15" y2="660.60" stroke="#fb4f4f" stroke-width="1.5" />
<line x1="133.75" y1="674.84" x2="140.15" y2="674.84" stroke="#fb4f4f" stroke-width="1.5" />
<polygon points="133.95,665.02 139.95,665.02 136.95,670.42" fill="#fb4f4f"/>
<polygon points="230.70,699.41 236.70,699.41 233.70,704.81" fill="#fb4f4f"/>
<polyline points="40.20,584.70 59.55,608.42 78.90,630.95 98.25,655.86 136.95,683.14 233.70,702.11" fill="none" stroke="#d4207a" stroke-width="1.7" stroke-linejoin="round" />
<polygon points="37.20,582.00 43.20,582.00 40.20,587.40" fill="#d4207a"/>
<line x1="59.55" y1="606.64" x2="59.55" y2="610.20" stroke="#d4207a" stroke-width="1.5" />
<line x1="56.35" y1="606.64" x2="62.75" y2="606.64" stroke="#d4207a" stroke-width="1.5" />
<line x1="56.35" y1="610.20" x2="62.75" y2="610.20" stroke="#d4207a" stroke-width="1.5" />
<polygon points="56.55,605.72 62.55,605.72 59.55,611.12" fill="#d4207a"/>
<line x1="78.90" y1="628.58" x2="78.90" y2="633.33" stroke="#d4207a" stroke-width="1.5" />
<line x1="75.70" y1="628.58" x2="82.10" y2="628.58" stroke="#d4207a" stroke-width="1.5" />
<line x1="75.70" y1="633.33" x2="82.10" y2="633.33" stroke="#d4207a" stroke-width="1.5" />
<polygon points="75.90,628.25 81.90,628.25 78.90,633.65" fill="#d4207a"/>
<line x1="98.25" y1="651.12" x2="98.25" y2="660.60" stroke="#d4207a" stroke-width="1.5" />
<line x1="95.05" y1="651.12" x2="101.45" y2="651.12" stroke="#d4207a" stroke-width="1.5" />
<line x1="95.05" y1="660.60" x2="101.45" y2="660.60" stroke="#d4207a" stroke-width="1.5" />
<polygon points="95.25,653.16 101.25,653.16 98.25,658.56" fill="#d4207a"/>
<line x1="136.95" y1="681.36" x2="136.95" y2="684.92" stroke="#d4207a" stroke-width="1.5" />
<line x1="133.75" y1="681.36" x2="140.15" y2="681.36" stroke="#d4207a" stroke-width="1.5" />
<line x1="133.75" y1="684.92" x2="140.15" y2="684.92" stroke="#d4207a" stroke-width="1.5" />
<polygon points="133.95,680.44 139.95,680.44 136.95,685.84" fill="#d4207a"/>
<polygon points="230.70,699.41 236.70,699.41 233.70,704.81" fill="#d4207a"/>
<polyline points="40.20,584.70 59.55,632.14 78.90,671.28 98.25,691.44 136.95,700.93 233.70,702.11" fill="none" stroke="#7010a8" stroke-width="1.7" stroke-linejoin="round" />
<polygon points="37.20,582.00 43.20,582.00 40.20,587.40" fill="#7010a8"/>
<line x1="59.55" y1="623.84" x2="59.55" y2="640.44" stroke="#7010a8" stroke-width="1.5" />
<line x1="56.35" y1="623.84" x2="62.75" y2="623.84" stroke="#7010a8" stroke-width="1.5" />
<line x1="56.35" y1="640.44" x2="62.75" y2="640.44" stroke="#7010a8" stroke-width="1.5" />
<polygon points="56.55,629.44 62.55,629.44 59.55,634.84" fill="#7010a8"/>
<line x1="78.90" y1="660.60" x2="78.90" y2="681.95" stroke="#7010a8" stroke-width="1.5" />
<line x1="75.70" y1="660.60" x2="82.10" y2="660.60" stroke="#7010a8" stroke-width="1.5" />
<line x1="75.70" y1="681.95" x2="82.10" y2="681.95" stroke="#7010a8" stroke-width="1.5" />
<polygon points="75.90,668.58 81.90,668.58 78.90,673.98" fill="#7010a8"/>
<line x1="98.25" y1="687.88" x2="98.25" y2="695.00" stroke="#7010a8" stroke-width="1.5" />
<line x1="95.05" y1="687.88" x2="101.45" y2="687.88" stroke="#7010a8" stroke-width="1.5" />
<line x1="95.05" y1="695.00" x2="101.45" y2="695.00" stroke="#7010a8" stroke-width="1.5" />
<polygon points="95.25,688.74 101.25,688.74 98.25,694.14" fill="#7010a8"/>
<line x1="136.95" y1="699.74" x2="136.95" y2="702.11" stroke="#7010a8" stroke-width="1.5" />
<line x1="133.75" y1="699.74" x2="140.15" y2="699.74" stroke="#7010a8" stroke-width="1.5" />
<line x1="133.75" y1="702.11" x2="140.15" y2="702.11" stroke="#7010a8" stroke-width="1.5" />
<polygon points="133.95,698.23 139.95,698.23 136.95,703.63" fill="#7010a8"/>
<polygon points="230.70,699.41 236.70,699.41 233.70,704.81" fill="#7010a8"/>
<polyline points="40.20,584.70 59.55,645.19 78.90,685.51 98.25,699.15 136.95,702.71 233.70,702.71" fill="none" stroke="#000000" stroke-width="1.7" stroke-linejoin="round" />
<polygon points="37.20,582.00 43.20,582.00 40.20,587.40" fill="#000000"/>
<line x1="59.55" y1="641.63" x2="59.55" y2="648.74" stroke="#000000" stroke-width="1.5" />
<line x1="56.35" y1="641.63" x2="62.75" y2="641.63" stroke="#000000" stroke-width="1.5" />
<line x1="56.35" y1="648.74" x2="62.75" y2="648.74" stroke="#000000" stroke-width="1.5" />
<polygon points="56.55,642.49 62.55,642.49 59.55,647.89" fill="#000000"/>
<line x1="78.90" y1="681.95" x2="78.90" y2="689.07" stroke="#000000" stroke-width="1.5" />
<line x1="75.70" y1="681.95" x2="82.10" y2="681.95" stroke="#000000" stroke-width="1.5" />
<line x1="75.70" y1="689.07" x2="82.10" y2="689.07" stroke="#000000" stroke-width="1.5" />
<polygon points="75.90,682.81 81.90,682.81 78.90,688.21" fill="#000000"/>
<line x1="98.25" y1="697.37" x2="98.25" y2="700.93" stroke="#000000" stroke-width="1.5" />
<line x1="95.05" y1="697.37" x2="101.45" y2="697.37" stroke="#000000" stroke-width="1.5" />
<line x1="95.05" y1="700.93" x2="101.45" y2="700.93" stroke="#000000" stroke-width="1.5" />
<polygon points="95.25,696.45 101.25,696.45 98.25,701.85" fill="#000000"/>
<polygon points="133.95,700.01 139.95,700.01 136.95,705.41" fill="#000000"/>
<polygon points="230.70,700.01 236.70,700.01 233.70,705.41" fill="#000000"/>
<line x1="191.20" y1="571.60" x2="206.30" y2="571.60" stroke="#000000" stroke-width="1.7" />
<polygon points="195.90,568.90 201.90,568.90 198.90,574.30" fill="#000000"/>
<text x="215.30" y="575.16" font-size="9.9" text-anchor="start" font-weight="normal" fill="#1a1a1a" >7 dpi</text>
<line x1="191.20" y1="590.80" x2="206.30" y2="590.80" stroke="#7010a8" stroke-width="1.7" />
<polygon points="195.90,588.10 201.90,588.10 198.90,593.50" fill="#7010a8"/>
<text x="215.30" y="594.36" font-size="9.9" text-anchor="start" font-weight="normal" fill="#1a1a1a" >14 dpi</text>
<line x1="191.20" y1="609.90" x2="206.30" y2="609.90" stroke="#d4207a" stroke-width="1.7" />
<polygon points="195.90,607.20 201.90,607.20 198.90,612.60" fill="#d4207a"/>
<text x="215.30" y="613.46" font-size="9.9" text-anchor="start" font-weight="normal" fill="#1a1a1a" >28 dpi</text>
<line x1="191.20" y1="629.00" x2="206.30" y2="629.00" stroke="#fb4f4f" stroke-width="1.7" />
<polygon points="195.90,626.30 201.90,626.30 198.90,631.70" fill="#fb4f4f"/>
<text x="215.30" y="632.56" font-size="9.9" text-anchor="start" font-weight="normal" fill="#1a1a1a" >56 dpi</text>
<line x1="308.20" y1="573.50" x2="308.20" y2="703.80" stroke="#000" stroke-width="1.8" />
<line x1="303.70" y1="702.90" x2="308.20" y2="702.90" stroke="#000" stroke-width="1.8" />
<text x="303.30" y="706.86" font-size="9.6" text-anchor="end" font-weight="bold" fill="#000" >0</text>
<line x1="303.70" y1="649.10" x2="308.20" y2="649.10" stroke="#000" stroke-width="1.8" />
<text x="303.30" y="653.06" font-size="9.6" text-anchor="end" font-weight="bold" fill="#000" >50</text>
<line x1="303.70" y1="595.30" x2="308.20" y2="595.30" stroke="#000" stroke-width="1.8" />
<text x="303.30" y="599.26" font-size="9.6" text-anchor="end" font-weight="bold" fill="#000" >100</text>
<line x1="307.30" y1="702.90" x2="501.90" y2="702.90" stroke="#000" stroke-width="1.8" />
<line x1="332.30" y1="702.90" x2="332.30" y2="707.50" stroke="#000" stroke-width="1.8" />
<text x="332.30" y="717.56" font-size="9.6" text-anchor="middle" font-weight="bold" fill="#000" >7 dpi</text>
<line x1="380.40" y1="702.90" x2="380.40" y2="707.50" stroke="#000" stroke-width="1.8" />
<text x="380.40" y="717.56" font-size="9.6" text-anchor="middle" font-weight="bold" fill="#000" >14 dpi</text>
<line x1="428.60" y1="702.90" x2="428.60" y2="707.50" stroke="#000" stroke-width="1.8" />
<text x="428.60" y="717.56" font-size="9.6" text-anchor="middle" font-weight="bold" fill="#000" >28 dpi</text>
<line x1="476.80" y1="702.90" x2="476.80" y2="707.50" stroke="#000" stroke-width="1.8" />
<text x="476.80" y="717.56" font-size="9.6" text-anchor="middle" font-weight="bold" fill="#000" >56 dpi</text>
<text transform="translate(279.2,638.9) rotate(-90)" font-size="12.3" font-weight="bold" text-anchor="middle">% binding at 1M NaSCN</text>
<line x1="327.40" y1="577.70" x2="479.90" y2="577.70" stroke="#222" stroke-width="1.6" />
<line x1="327.40" y1="608.80" x2="433.50" y2="608.80" stroke="#222" stroke-width="1.6" />
<text x="393.30" y="578.00" font-size="16" text-anchor="start" font-weight="bold" fill="#222" letter-spacing="2">***</text>
<text x="370.20" y="609.20" font-size="16" text-anchor="start" font-weight="bold" fill="#222" letter-spacing="2">***</text>
<line x1="316.70" y1="686.22" x2="347.90" y2="686.22" stroke="#000000" stroke-width="1.8" />
<line x1="332.30" y1="682.99" x2="332.30" y2="689.45" stroke="#000000" stroke-width="1.6" />
<line x1="324.30" y1="682.99" x2="340.30" y2="682.99" stroke="#000000" stroke-width="1.6" />
<line x1="324.30" y1="689.45" x2="340.30" y2="689.45" stroke="#000000" stroke-width="1.6" />
<polygon points="328.55,677.49 335.05,677.49 331.80,683.34" fill="#000000"/>
<polygon points="334.05,681.68 340.55,681.68 337.30,687.53" fill="#000000"/>
<polygon points="323.05,688.68 329.55,688.68 326.30,694.53" fill="#000000"/>
<line x1="364.80" y1="673.85" x2="396.00" y2="673.85" stroke="#7010a8" stroke-width="1.8" />
<line x1="380.40" y1="663.63" x2="380.40" y2="684.07" stroke="#7010a8" stroke-width="1.6" />
<line x1="372.40" y1="663.63" x2="388.40" y2="663.63" stroke="#7010a8" stroke-width="1.6" />
<line x1="372.40" y1="684.07" x2="388.40" y2="684.07" stroke="#7010a8" stroke-width="1.6" />
<polygon points="377.15,653.71 383.65,653.71 380.40,659.56" fill="#7010a8"/>
<polygon points="377.15,667.70 383.65,667.70 380.40,673.54" fill="#7010a8"/>
<polygon points="377.15,689.22 383.65,689.22 380.40,695.06" fill="#7010a8"/>
<line x1="413.00" y1="637.26" x2="444.20" y2="637.26" stroke="#d4207a" stroke-width="1.8" />
<line x1="428.60" y1="635.11" x2="428.60" y2="639.42" stroke="#d4207a" stroke-width="1.6" />
<line x1="420.60" y1="635.11" x2="436.60" y2="635.11" stroke="#d4207a" stroke-width="1.6" />
<line x1="420.60" y1="639.42" x2="436.60" y2="639.42" stroke="#d4207a" stroke-width="1.6" />
<polygon points="420.35,631.11 426.85,631.11 423.60,636.96" fill="#d4207a"/>
<polygon points="430.35,632.19 436.85,632.19 433.60,638.04" fill="#d4207a"/>
<polygon points="425.35,639.18 431.85,639.18 428.60,645.03" fill="#d4207a"/>
<line x1="461.20" y1="626.50" x2="492.40" y2="626.50" stroke="#fb4f4f" stroke-width="1.8" />
<line x1="476.80" y1="622.74" x2="476.80" y2="630.27" stroke="#fb4f4f" stroke-width="1.6" />
<line x1="468.80" y1="622.74" x2="484.80" y2="622.74" stroke="#fb4f4f" stroke-width="1.6" />
<line x1="468.80" y1="630.27" x2="484.80" y2="630.27" stroke="#fb4f4f" stroke-width="1.6" />
<polygon points="473.55,616.05 480.05,616.05 476.80,621.90" fill="#fb4f4f"/>
<polygon points="473.55,622.50 480.05,622.50 476.80,628.35" fill="#fb4f4f"/>
<polygon points="473.55,630.04 480.05,630.04 476.80,635.88" fill="#fb4f4f"/>
<line x1="578.50" y1="550.20" x2="578.50" y2="703.30" stroke="#000" stroke-width="1.8" />
<line x1="573.50" y1="550.80" x2="578.50" y2="550.80" stroke="#000" stroke-width="1.8" />
<text x="570.60" y="554.71" font-size="12.8" text-anchor="end" font-weight="bold" fill="#000" >1024</text>
<line x1="573.50" y1="569.75" x2="578.50" y2="569.75" stroke="#000" stroke-width="1.8" />
<text x="570.60" y="573.66" font-size="12.8" text-anchor="end" font-weight="bold" fill="#000" >512</text>
<line x1="573.50" y1="588.70" x2="578.50" y2="588.70" stroke="#000" stroke-width="1.8" />
<text x="570.60" y="592.61" font-size="12.8" text-anchor="end" font-weight="bold" fill="#000" >256</text>
<line x1="573.50" y1="607.65" x2="578.50" y2="607.65" stroke="#000" stroke-width="1.8" />
<text x="570.60" y="611.56" font-size="12.8" text-anchor="end" font-weight="bold" fill="#000" >128</text>
<line x1="573.50" y1="626.60" x2="578.50" y2="626.60" stroke="#000" stroke-width="1.8" />
<text x="570.60" y="630.51" font-size="12.8" text-anchor="end" font-weight="bold" fill="#000" >64</text>
<line x1="573.50" y1="645.55" x2="578.50" y2="645.55" stroke="#000" stroke-width="1.8" />
<text x="570.60" y="649.46" font-size="12.8" text-anchor="end" font-weight="bold" fill="#000" >32</text>
<line x1="573.50" y1="664.50" x2="578.50" y2="664.50" stroke="#000" stroke-width="1.8" />
<text x="570.60" y="668.41" font-size="12.8" text-anchor="end" font-weight="bold" fill="#000" >16</text>
<line x1="573.50" y1="683.45" x2="578.50" y2="683.45" stroke="#000" stroke-width="1.8" />
<text x="570.60" y="687.36" font-size="12.8" text-anchor="end" font-weight="bold" fill="#000" >8</text>
<line x1="573.50" y1="702.40" x2="578.50" y2="702.40" stroke="#000" stroke-width="1.8" />
<text x="570.60" y="706.31" font-size="12.8" text-anchor="end" font-weight="bold" fill="#000" >4</text>
<line x1="577.60" y1="702.40" x2="685.00" y2="702.40" stroke="#000" stroke-width="1.8" />
<line x1="604.60" y1="702.40" x2="604.60" y2="707.00" stroke="#000" stroke-width="1.8" />
<line x1="658.40" y1="702.40" x2="658.40" y2="707.00" stroke="#000" stroke-width="1.8" />
<text transform="translate(537.8,617.5) rotate(-90)" font-size="14.9" font-weight="bold" text-anchor="middle">HAI titer</text>
<line x1="578.20" y1="677.20" x2="685.00" y2="677.20" stroke="#111" stroke-width="1.6" stroke-dasharray="1.6,3.03"/>
<line x1="603.80" y1="568.40" x2="655.10" y2="568.40" stroke="#555" stroke-width="1.1" />
<text x="619.10" y="567.00" font-size="15" text-anchor="start" font-weight="bold" fill="#222" letter-spacing="1.3">***</text>
<circle cx="594.10" cy="582.20" r="4.9" fill="#333333" stroke="none" stroke-width="1"/>
<circle cx="604.80" cy="582.20" r="4.9" fill="#333333" stroke="none" stroke-width="1"/>
<circle cx="616.00" cy="582.20" r="4.9" fill="#333333" stroke="none" stroke-width="1"/>
<circle cx="594.10" cy="601.30" r="4.9" fill="#333333" stroke="none" stroke-width="1"/>
<circle cx="604.80" cy="601.30" r="4.9" fill="#333333" stroke="none" stroke-width="1"/>
<circle cx="616.00" cy="601.30" r="4.9" fill="#333333" stroke="none" stroke-width="1"/>
<circle cx="604.80" cy="620.00" r="4.9" fill="#333333" stroke="none" stroke-width="1"/>
<circle cx="604.80" cy="639.30" r="4.9" fill="#333333" stroke="none" stroke-width="1"/>
<line x1="586.90" y1="595.50" x2="622.60" y2="595.50" stroke="#000" stroke-width="2.2" />
<line x1="604.80" y1="590.30" x2="604.80" y2="600.10" stroke="#000" stroke-width="2.0" />
<line x1="596.10" y1="590.30" x2="613.40" y2="590.30" stroke="#000" stroke-width="2.0" />
<line x1="597.00" y1="600.10" x2="612.60" y2="600.10" stroke="#000" stroke-width="2.0" />
<circle cx="647.30" cy="702.50" r="4.5" fill="none" stroke="#111" stroke-width="1.7"/>
<circle cx="652.60" cy="702.50" r="4.5" fill="none" stroke="#111" stroke-width="1.7"/>
<circle cx="658.40" cy="702.50" r="4.5" fill="none" stroke="#111" stroke-width="1.7"/>
<circle cx="663.70" cy="702.50" r="4.5" fill="none" stroke="#111" stroke-width="1.7"/>
<circle cx="669.00" cy="702.50" r="4.5" fill="none" stroke="#111" stroke-width="1.7"/>
<circle cx="658.30" cy="658.40" r="4.6" fill="none" stroke="#111" stroke-width="1.6"/>
<line x1="640.80" y1="688.90" x2="675.90" y2="688.90" stroke="#111" stroke-width="2.6" />
<line x1="658.50" y1="679.20" x2="658.50" y2="702.60" stroke="#111" stroke-width="2.4" />
<line x1="648.90" y1="679.20" x2="666.80" y2="679.20" stroke="#111" stroke-width="2.4" />
<text transform="translate(613.5,718.5) rotate(-45)" font-size="13.4" font-weight="bold" text-anchor="end">MCMV<tspan font-size="9.8" dy="-5.3" dx="0">HA</tspan></text>
<text transform="translate(665.5,719) rotate(-45)" font-size="13.4" font-weight="bold" text-anchor="end">MCMV<tspan font-size="9" dy="-5" dx="-1">IVL</tspan></text>
</svg>
</body></html>
